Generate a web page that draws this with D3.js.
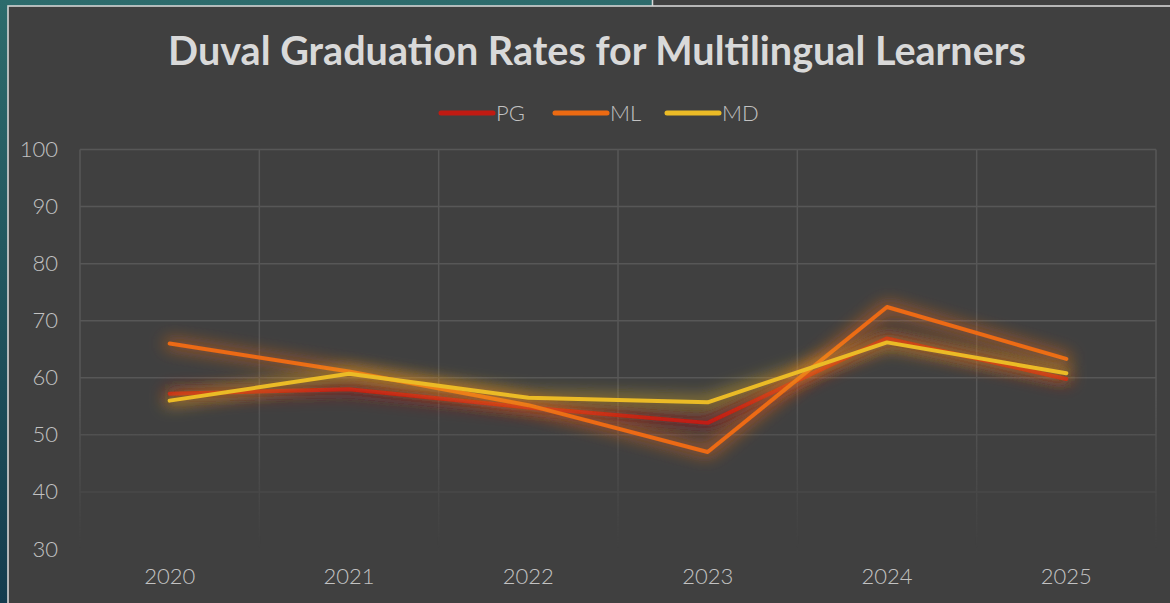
<!DOCTYPE html>
<html>
<head>
<meta charset="utf-8">
<script src="https://cdn.jsdelivr.net/npm/d3@7"></script>
<style>
  html, body { margin: 0; padding: 0; background: #1d4b5a; }
  svg { display: block; }
</style>
</head>
<body>
<div id="chart"></div>
<script>
// --- Data ---
const years = ["2020", "2021", "2022", "2023", "2024", "2025"];
const pgValues = [57.2, 58.0, 54.8, 52.1, 66.9, 59.8];
const mlValues = [66.0, 61.1, 55.2, 47.0, 72.4, 63.3];
const mdValues = [56.0, 60.7, 56.5, 55.7, 66.2, 60.8];
const yTicks = [30, 40, 50, 60, 70, 80, 90, 100];
const seriesNames = ["PG", "ML", "MD"];

const series = [
    { name: seriesNames[0], values: pgValues, color: "#c01a12" },
    { name: seriesNames[1], values: mlValues, color: "#ec6a12" },
    { name: seriesNames[2], values: mdValues, color: "#ebbb26" }
];

const width = 1170, height = 603;
const margin = { top: 149.5, right: 14, bottom: 54, left: 80 };
const textColor = "#c2c2c2";
const fontFamily = "Lato, 'Open Sans', sans-serif";

const svg = d3.select("#chart").append("svg")
    .attr("width", width)
    .attr("height", height);

const defs = svg.append("defs");

// background gradient (teal slide behind the panel)
const bg = defs.append("linearGradient").attr("id", "bgGrad")
    .attr("x1", 0).attr("y1", 0).attr("x2", 0).attr("y2", 1);
bg.append("stop").attr("offset", "0%").attr("stop-color", "#2d6b6c");
bg.append("stop").attr("offset", "100%").attr("stop-color", "#143c4e");

svg.append("rect").attr("width", width).attr("height", height).attr("fill", "url(#bgGrad)");
// another dark shape peeking above the panel on the right
svg.append("rect").attr("x", 652).attr("y", 0).attr("width", width - 652).attr("height", 8)
    .attr("fill", "#404040");
svg.append("line").attr("x1", 652.5).attr("x2", 652.5).attr("y1", 0).attr("y2", 6)
    .attr("stroke", "#d8d8d8").attr("stroke-width", 1.5);

// chart panel
svg.append("rect")
    .attr("x", 8).attr("y", 6)
    .attr("width", width).attr("height", height)
    .attr("fill", "#404040")
    .attr("stroke", "#d4d4d4")
    .attr("stroke-width", 1.6);

// glow filter for the lines (thicken, blur, fade)
const glow = defs.append("filter").attr("id", "glow")
    .attr("x", "-20%").attr("y", "-80%").attr("width", "140%").attr("height", "260%");
glow.append("feMorphology").attr("in", "SourceGraphic").attr("operator", "dilate")
    .attr("radius", 3).attr("result", "thick");
glow.append("feGaussianBlur").attr("in", "thick").attr("stdDeviation", 8).attr("result", "blur");
glow.append("feComponentTransfer").attr("in", "blur").attr("result", "faint")
    .append("feFuncA").attr("type", "linear").attr("slope", 0.55);
const merge = glow.append("feMerge");
merge.append("feMergeNode").attr("in", "faint");
merge.append("feMergeNode").attr("in", "SourceGraphic");

// fade-out mask for the grid near the bottom
const fade = defs.append("linearGradient").attr("id", "fadeGrad")
    .attr("gradientUnits", "userSpaceOnUse")
    .attr("x1", 0).attr("y1", 390).attr("x2", 0).attr("y2", 548);
fade.append("stop").attr("offset", "0%").attr("stop-color", "#fff");
fade.append("stop").attr("offset", "100%").attr("stop-color", "#000");
defs.append("mask").attr("id", "gridMask")
    .append("rect").attr("x", 0).attr("y", 0).attr("width", width).attr("height", height)
    .attr("fill", "url(#fadeGrad)");

// --- Scales ---
const x = d3.scaleBand()
    .domain(years)
    .range([margin.left, width - margin.right]);

const y = d3.scaleLinear()
    .domain([30, 100])
    .range([height - margin.bottom, margin.top]);

// --- Grid ---
const grid = svg.append("g").attr("mask", "url(#gridMask)")
    .attr("stroke", "#575757").attr("stroke-width", 1.5);

grid.selectAll("line.h")
    .data(yTicks)
    .join("line")
    .attr("class", "h")
    .attr("x1", margin.left).attr("x2", width - margin.right)
    .attr("y1", d => y(d)).attr("y2", d => y(d));

const vEdges = years.map(d => x(d)).concat([x(years[years.length - 1]) + x.bandwidth()]);
grid.selectAll("line.v")
    .data(vEdges)
    .join("line")
    .attr("class", "v")
    .attr("x1", d => d).attr("x2", d => d)
    .attr("y1", y(100)).attr("y2", y(30));

// --- Axes ---
const yAxis = svg.append("g")
    .attr("transform", `translate(${margin.left - 22},0)`)
    .call(d3.axisLeft(y).tickValues(yTicks).tickSize(0).tickPadding(0));
yAxis.select(".domain").remove();
yAxis.selectAll("text")
    .attr("fill", textColor)
    .style("font-family", fontFamily)
    .style("font-weight", 300)
    .style("font-size", "22px");

const xAxis = svg.append("g")
    .attr("transform", `translate(0,${y(30) + 19})`)
    .call(d3.axisBottom(x).tickSize(0).tickPadding(0));
xAxis.select(".domain").remove();
xAxis.selectAll("text")
    .attr("fill", textColor)
    .style("font-family", fontFamily)
    .style("font-weight", 300)
    .style("font-size", "22px");

// --- Lines ---
const line = d3.line()
    .x((d, i) => x(years[i]) + x.bandwidth() / 2)
    .y(d => y(d));

svg.append("g")
    .selectAll("path")
    .data(series)
    .join("path")
    .attr("d", d => line(d.values))
    .attr("fill", "none")
    .attr("stroke", d => d.color)
    .attr("stroke-width", 4)
    .attr("stroke-linecap", "round")
    .attr("stroke-linejoin", "round")
    .attr("filter", "url(#glow)");

// --- Title ---
const title = svg.append("text")
    .attr("x", 597)
    .attr("y", 65)
    .attr("text-anchor", "middle")
    .attr("fill", "#d9d9d9")
    .style("font-family", fontFamily)
    .style("font-weight", "bold")
    .style("font-size", "32px")
    .text("Duval Graduation Rates for Multilingual Learners");
// stretch to the width the original title takes
const tw = title.node().getComputedTextLength();
title.style("font-size", (32 * 858 / tw).toFixed(2) + "px");

// --- Legend ---
const legendX = [439, 553, 665];
const legend = svg.append("g")
    .selectAll("g")
    .data(series)
    .join("g")
    .attr("transform", (d, i) => `translate(${legendX[i]},113)`);

legend.append("line")
    .attr("x1", 2).attr("x2", 54)
    .attr("stroke", d => d.color)
    .attr("stroke-width", 5)
    .attr("stroke-linecap", "round");

legend.append("text")
    .attr("x", 57)
    .attr("y", 8)
    .attr("fill", textColor)
    .style("font-family", fontFamily)
    .style("font-weight", 300)
    .style("font-size", "22px")
    .text(d => d.name);
</script>
</body>
</html>
